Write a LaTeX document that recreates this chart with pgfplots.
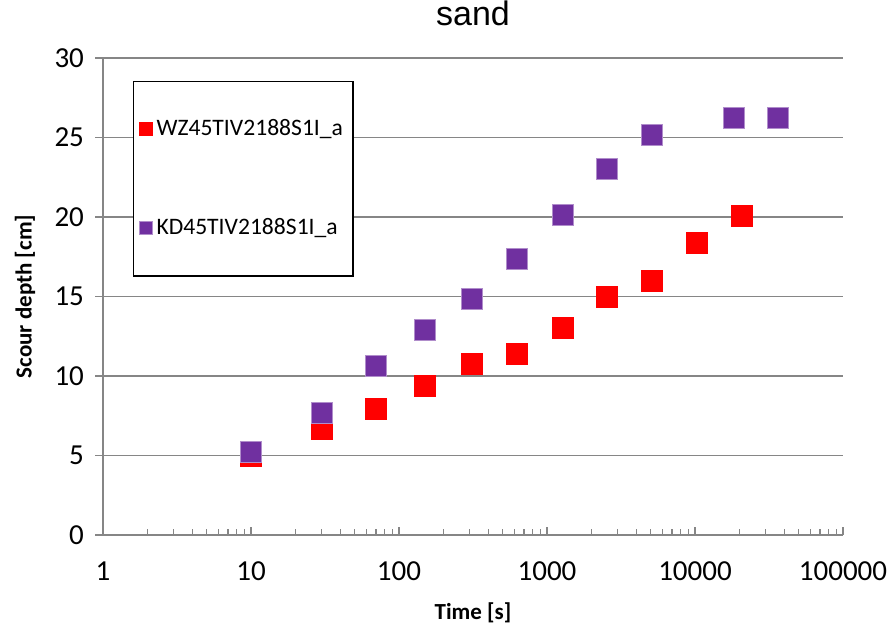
\documentclass[border=0pt]{standalone}
\usepackage{fontspec}
\setmainfont{Carlito}
\newfontfamily\arialfont{Liberation Sans}
\usepackage{pgfplots}
\pgfplotsset{compat=1.18}

\definecolor{gridgray}{HTML}{868686}
\definecolor{wzred}{HTML}{FF0000}
\definecolor{kdpurple}{HTML}{7030A0}

\begin{document}
\begin{tikzpicture}
\useasboundingbox (-51.5pt,-46.5pt) rectangle (394.5pt,267.5pt);
\begin{axis}[
  scale only axis, width=370pt, height=238.5pt,
  xmode=log, xmin=1, xmax=100000, ymin=0, ymax=30,
  xtick={1,10,100,1000,10000,100000},
  xticklabels={1,10,100,1000,10000,100000},
  ytick={0,5,...,30},
  /pgf/number format/assume math mode=true,
  axis x line*=bottom, axis y line*=left,
  axis line style={gridgray, line width=0.75pt},
  x tick style={gridgray, line width=0.6pt},
  y tick style={gridgray, line width=0.75pt},
  xtick align=inside, ytick align=outside,
  major tick length=4pt, minor tick length=3pt,
  ymajorgrids, grid style={gridgray, line width=0.75pt},
  tick label style={font=\fontsize{14.5}{16}\selectfont, black},
  xticklabel style={yshift=-10pt},
  yticklabel style={xshift=-2pt},
  xlabel={Time [s]}, ylabel={Scour depth [cm]},
  label style={font=\fontsize{11.5}{13}\selectfont\bfseries},
  xlabel style={at={(axis description cs:0.5,-0.1635)}, anchor=center},
  ylabel style={at={(axis description cs:-0.1054,0.5)}, anchor=center},
  title={sand},
  title style={font=\arialfont\fontsize{17}{19}\selectfont, at={(axis description cs:0.5,1.069)}, anchor=center},
  clip=false,
  legend style={
    at={(axis description cs:0.0405,0.952)}, anchor=north west,
    draw=black, line width=0.75pt, fill=white,
    font=\fontsize{11.8}{13}\selectfont,
    inner xsep=3pt, inner ysep=17pt, row sep=36pt,
    legend cell align=left,
  },
  legend image code/.code={\draw[#1, mark size=3.2pt] plot coordinates {(0.2cm,0cm)};},
]
\addplot[only marks, mark=square*, mark size=5.25pt, color=wzred]
coordinates {
  (10,5.0) (30,6.7) (70,7.9) (150,9.4) (310,10.75) (630,11.4)
  (1290,13.0) (2540,15.0) (5100,16.0) (10300,18.4) (20800,20.1)
};
\addlegendentry{WZ45TIV2188S1I\_a}
\addplot[only marks, mark=square*, mark size=5.25pt, color=kdpurple, mark options={draw=kdpurple!55, line width=0.5pt, fill=kdpurple}]
coordinates {
  (10,5.2) (30,7.7) (70,10.6) (150,12.9) (310,14.85) (630,17.35)
  (1290,20.1) (2540,23.0) (5100,25.15) (18300,26.2) (36500,26.2)
};
\addlegendentry{KD45TIV2188S1I\_a}
\end{axis}
\end{tikzpicture}
\end{document}
